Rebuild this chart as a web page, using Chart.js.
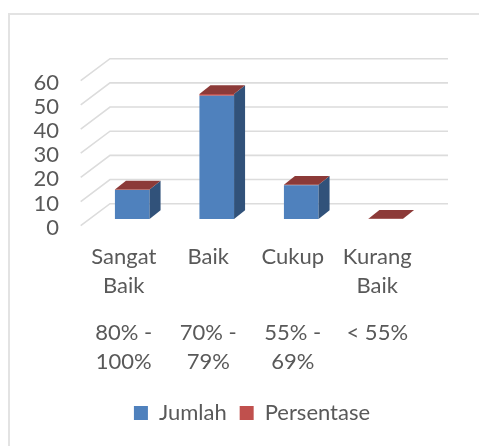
<!DOCTYPE html>
<html>
<head>
<meta charset="utf-8">
<script src="https://cdn.jsdelivr.net/npm/chart.js@4"></script>
<style>
    html, body { margin: 0; padding: 0; background: #fff; overflow: hidden; }
    #wrap { position: relative; width: 479px; height: 446px; overflow: hidden; }
    #frame { position: absolute; left: 8px; top: 13px; width: 480px; height: 440px; border: 2px solid #e3e3e3; box-sizing: border-box; }
    canvas { position: absolute; left: 0; top: 0; }
</style>
</head>
<body>
<div id="wrap">
    <div id="frame"></div>
    <canvas id="nilaiChart" width="479" height="446"></canvas>
</div>
<script>
const categories = [['Sangat', 'Baik'], 'Baik', 'Cukup', ['Kurang', 'Baik']];
const ranges = [['80% -', '100%'], ['70% -', '79%'], ['55% -', '69%'], '< 55%'];
const jumlah = [12, 51, 14, 0];
const persentase = [0.2, 0.7, 0.2, 0.1];
const yTicks = [0, 10, 20, 30, 40, 50, 60];

const textColor = '#595959';
const fontFamily = 'Lato, Carlito, sans-serif';

// kedalaman bidang 3D
const frontDx = -9.3, frontDy = 6.7;
const backDx = 20, backDy = -15.3;
const barDx = 11, barDy = -8.7;
const legendShift = 38;

const depth3d = {
    id: 'depth3d',
    afterLayout(chart) {
        // legend di gambar asli tidak tepat di tengah plot
        chart.legend.left += legendShift;
        chart.legend.right += legendShift;
    },
    beforeDatasetsDraw(chart) {
        const { ctx, chartArea, scales } = chart;
        ctx.save();
        ctx.strokeStyle = '#dcdcdc';
        ctx.lineWidth = 1.6;
        yTicks.forEach(v => {
            const y = scales.y.getPixelForValue(v);
            ctx.beginPath();
            ctx.moveTo(chartArea.left + frontDx, y + frontDy);
            ctx.lineTo(chartArea.left + backDx, y + backDy);
            ctx.lineTo(chartArea.right + backDx, y + backDy);
            ctx.stroke();
        });
        ctx.restore();
    },
    afterDatasetsDraw(chart) {
        const { ctx } = chart;
        const blue = chart.getDatasetMeta(0).data;
        const red = chart.getDatasetMeta(1).data;
        ctx.save();
        blue.forEach((bar, i) => {
            const left = bar.x - bar.width / 2, right = bar.x + bar.width / 2;
            const top = red[i].y;
            // sisi kanan
            if (bar.base - bar.y > 0.5) {
                ctx.fillStyle = '#31527a';
                ctx.beginPath();
                ctx.moveTo(right, bar.base);
                ctx.lineTo(right + barDx, bar.base + barDy);
                ctx.lineTo(right + barDx, top + barDy);
                ctx.lineTo(right, top);
                ctx.closePath();
                ctx.fill();
            }
            // sisi atas
            ctx.fillStyle = '#8c3a38';
            ctx.beginPath();
            ctx.moveTo(left, top);
            ctx.lineTo(left + barDx, top + barDy);
            ctx.lineTo(right + barDx, top + barDy);
            ctx.lineTo(right, top);
            ctx.closePath();
            ctx.fill();
        });
        ctx.restore();
    }
};

new Chart(document.getElementById('nilaiChart').getContext('2d'), {
    type: 'bar',
    data: {
        labels: categories,
        datasets: [
            { label: 'Jumlah', data: jumlah, backgroundColor: '#4f81bd', stack: 's' },
            { label: 'Persentase', data: persentase, backgroundColor: '#c0504d', stack: 's' }
        ]
    },
    options: {
        responsive: false,
        animation: false,
        devicePixelRatio: 1,
        layout: { padding: { top: 74, right: 51, bottom: 12, left: 0 } },
        datasets: { bar: { barPercentage: 1, categoryPercentage: 0.41 } },
        scales: {
            x: {
                stacked: true,
                afterFit(scale) { scale.height = 81; },
                grid: { display: false, drawTicks: false },
                border: { display: false },
                ticks: {
                    color: textColor, maxRotation: 0, autoSkip: false, padding: 24, labelOffset: -8.5,
                    font: { family: fontFamily, size: 22, lineHeight: 1.295 }
                }
            },
            x2: {
                type: 'category',
                position: 'bottom',
                labels: ranges,
                afterFit(scale) { scale.height = 89; },
                grid: { display: false, drawTicks: false },
                border: { display: false },
                ticks: {
                    color: textColor, maxRotation: 0, autoSkip: false, padding: 19, labelOffset: -8.5,
                    font: { family: fontFamily, size: 22, lineHeight: 1.295 }
                }
            },
            y: {
                stacked: true,
                min: 0,
                max: 60,
                afterBuildTicks(scale) { scale.ticks = yTicks.map(v => ({ value: v })); },
                afterFit(scale) { scale.width = 90; },
                grid: { display: false, drawTicks: false },
                border: { display: false },
                ticks: {
                    color: textColor, padding: 31, labelOffset: frontDy + 2, autoSkip: false,
                    font: { family: fontFamily, size: 22 }
                }
            }
        },
        plugins: {
            title: { display: false },
            tooltip: { enabled: false },
            legend: {
                position: 'bottom',
                labels: {
                    color: textColor, boxWidth: 14, boxHeight: 14, padding: 13,
                    font: { family: fontFamily, size: 22 }
                }
            }
        }
    },
    plugins: [depth3d]
});
</script>
</body>
</html>
